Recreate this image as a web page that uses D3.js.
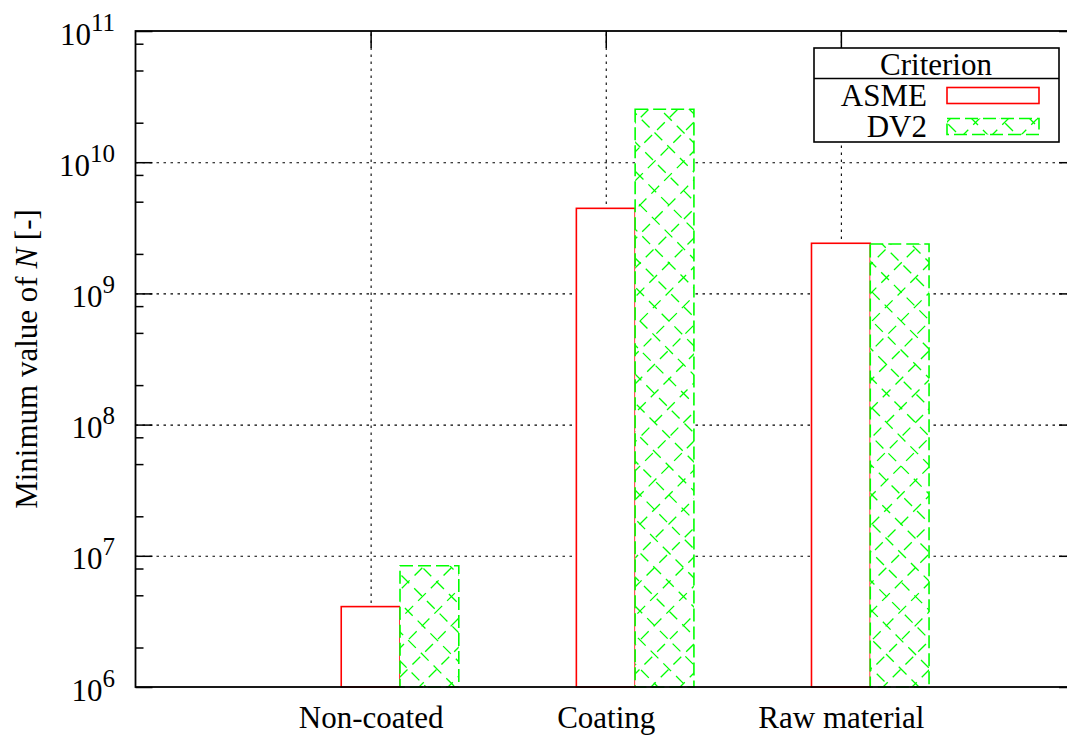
<!DOCTYPE html>
<html>
<head>
<meta charset="utf-8">
<script src="https://cdn.jsdelivr.net/npm/d3@7"></script>
<style>
  body { margin: 0; background: #ffffff; }
  svg { display: block; }
  text { font-family: "Liberation Serif", "Times New Roman", serif; fill: #000; }
</style>
</head>
<body>
<svg id="chart" width="1067" height="739"></svg>
<script>
// Minimum value of N for each surface condition, per fatigue criterion
const categories = ["Non-coated", "Coating", "Raw material"];
const seriesNames = ["ASME", "DV2"];
const asmeValues = [4.1e6, 4.45e9, 2.41e9];
const dv2Values = [8.4e6, 2.53e10, 2.38e9];
const yMajorExponents = [6, 7, 8, 9, 10, 11];
const yMinorMantissas = [2, 5, 8];
const legendTitle = "Criterion";

const svg = d3.select("#chart");
const margin = { left: 135.5, top: 31, bottom: 687, right: 1076 };
const FONT = 31;
const RED = "#ff0000";
const GREEN = "#00ff00";

const x = d3.scaleLinear().domain([-1, 3]).range([margin.left, margin.right]);
const y = d3.scaleLog().domain([1e6, 1e11]).range([margin.bottom, margin.top]);

const majorTicks = yMajorExponents.map(e => Math.pow(10, e));
const minorTicks = [];
for (let e = yMajorExponents[0]; e < yMajorExponents[yMajorExponents.length - 1]; e++) {
  yMinorMantissas.forEach(m => minorTicks.push(m * Math.pow(10, e)));
}
const gridTicks = majorTicks.slice(1, -1);
const catIdx = categories.map((_, i) => i);

// ---- grid (dotted) ----
const grid = svg.append("g").attr("class", "grid");
grid.append("g")
  .attr("transform", `translate(${margin.left},0)`)
  .call(d3.axisLeft(y).tickValues(gridTicks).tickFormat("").tickSize(-(margin.right - margin.left)))
  .call(g => g.select(".domain").remove());
grid.append("g")
  .attr("transform", `translate(0,${margin.bottom})`)
  .call(d3.axisTop(x).tickValues(catIdx).tickFormat("").tickSize(margin.bottom - margin.top))
  .call(g => g.select(".domain").remove());
grid.selectAll("line")
  .attr("stroke", "#000").attr("stroke-width", 1.1).attr("stroke-dasharray", "2.5,4.5");

// ---- bottom category ticks (drawn under the bars) ----
svg.append("g")
  .attr("transform", `translate(0,${margin.bottom})`)
  .call(d3.axisTop(x).tickValues(catIdx).tickFormat("").tickSize(17))
  .call(g => g.select(".domain").remove())
  .selectAll("line").attr("stroke", "#000").attr("stroke-width", 1.5);

// ---- crosshatch helper ----
const defs = svg.append("defs");
let clipCount = 0;
const HATCH = 29;             // lattice step along each axis
const HATCH_X0 = 408, HATCH_Y0 = 582;
function crossHatch(parent, rx, ry, rw, rh) {
  const id = "hatchclip" + (clipCount++);
  defs.append("clipPath").attr("id", id)
    .append("rect").attr("x", rx).attr("y", ry).attr("width", rw).attr("height", rh);
  const g = parent.append("g").attr("clip-path", `url(#${id})`);
  const sumRef = HATCH_X0 + HATCH_Y0, difRef = HATCH_X0 - HATCH_Y0;
  // lines of constant x+y (running up-right), drawn from the bottom edge upward
  const sMin = Math.floor((rx + ry - sumRef) / HATCH) - 1;
  const sMax = Math.ceil((rx + rw + ry + rh - sumRef) / HATCH) + 1;
  for (let k = sMin; k <= sMax; k++) {
    const c = sumRef + k * HATCH;
    const yb = ry + rh + 3, yt = ry - 3;
    g.append("line").attr("x1", c - yb).attr("y1", yb).attr("x2", c - yt).attr("y2", yt);
  }
  // lines of constant x-y (running down-right), drawn from the top edge downward
  const dMin = Math.floor((rx - (ry + rh) - difRef) / HATCH) - 1;
  const dMax = Math.ceil((rx + rw - ry - difRef) / HATCH) + 1;
  for (let k = dMin; k <= dMax; k++) {
    const c = difRef + k * HATCH;
    const yt = ry - 3 - ((k * 7) % 13), yb = ry + rh + 3;
    g.append("line").attr("x1", yt + c).attr("y1", yt).attr("x2", yb + c).attr("y2", yb);
  }
  g.selectAll("line")
    .attr("stroke", GREEN).attr("stroke-width", 1.3).attr("stroke-dasharray", "11,7");
}

// ---- bars ----
const barW = 0.25;
const bars = svg.append("g").attr("class", "bars");
categories.forEach((cat, i) => {
  // ASME: open red box
  const ax0 = x(i - barW / 2), ax1 = x(i + barW / 2);
  bars.append("rect")
    .attr("x", ax0).attr("y", y(asmeValues[i]))
    .attr("width", ax1 - ax0).attr("height", y(1e6) - y(asmeValues[i]))
    .attr("fill", "#fff").attr("stroke", RED).attr("stroke-width", 1.6);
  // DV2: green dashed box with crosshatch
  const dx0 = x(i + barW / 2), dx1 = x(i + 1.5 * barW);
  const top = y(dv2Values[i]), h = y(1e6) - top;
  bars.append("rect")
    .attr("x", dx0).attr("y", top).attr("width", dx1 - dx0).attr("height", h)
    .attr("fill", "#fff");
  crossHatch(bars, dx0, top, dx1 - dx0, h);
  bars.append("rect")
    .attr("x", dx0).attr("y", top).attr("width", dx1 - dx0).attr("height", h)
    .attr("fill", "none").attr("stroke", GREEN).attr("stroke-width", 1.6)
    .attr("stroke-dasharray", "13,5");
});

// ---- axes ticks ----
const tickStyle = sel => sel.selectAll("line").attr("stroke", "#000").attr("stroke-width", 1.5);
svg.append("g").attr("transform", `translate(${margin.left},0)`)
  .call(d3.axisRight(y).tickValues(majorTicks).tickFormat("").tickSize(17))
  .call(g => g.select(".domain").remove()).call(tickStyle);
svg.append("g").attr("transform", `translate(${margin.left},0)`)
  .call(d3.axisRight(y).tickValues(minorTicks).tickFormat("").tickSize(8))
  .call(g => g.select(".domain").remove()).call(tickStyle);
svg.append("g").attr("transform", `translate(${margin.right},0)`)
  .call(d3.axisLeft(y).tickValues(majorTicks).tickFormat("").tickSize(17))
  .call(g => g.select(".domain").remove()).call(tickStyle);
svg.append("g").attr("transform", `translate(0,${margin.top})`)
  .call(d3.axisBottom(x).tickValues(catIdx).tickFormat("").tickSize(17))
  .call(g => g.select(".domain").remove()).call(tickStyle);

// ---- border ----
svg.append("rect")
  .attr("x", margin.left).attr("y", margin.top)
  .attr("width", margin.right - margin.left).attr("height", margin.bottom - margin.top)
  .attr("fill", "none").attr("stroke", "#000").attr("stroke-width", 1.8);

// ---- y tick labels: 10^n ----
const yLabels = svg.append("g").attr("class", "ylabels");
yMajorExponents.forEach(e => {
  const t = yLabels.append("text")
    .attr("x", 115).attr("y", y(Math.pow(10, e)) + 13.5)
    .attr("text-anchor", "end").attr("font-size", FONT);
  t.append("tspan").text("10");
  t.append("tspan").attr("dy", -14).attr("font-size", 25).text(String(e));
});

// ---- x category labels ----
svg.append("g")
  .attr("transform", `translate(0,${margin.bottom})`)
  .call(d3.axisBottom(x).tickValues(catIdx).tickFormat(i => categories[i]).tickSize(0))
  .call(g => g.select(".domain").remove())
  .selectAll("text")
  .attr("y", 41).attr("dy", 0)
  .attr("font-size", FONT)
  .attr("font-family", "Liberation Serif, serif")
  .attr("fill", "#000");

// ---- y axis title ----
const yt = svg.append("text")
  .attr("transform", `translate(37,${(margin.top + margin.bottom) / 2}) rotate(-90)`)
  .attr("text-anchor", "middle").attr("font-size", FONT);
yt.append("tspan").text("Minimum value of ");
yt.append("tspan").attr("font-style", "italic").text("N");
yt.append("tspan").text(" [-]");

// ---- legend ----
const lg = svg.append("g").attr("transform", "translate(814,48)");
const lgW = 245, lgH = 94, titleH = 30.5;
lg.append("rect").attr("width", lgW).attr("height", lgH)
  .attr("fill", "#fff").attr("stroke", "#000").attr("stroke-width", 1.6);
lg.append("line").attr("x1", 0).attr("x2", lgW).attr("y1", titleH).attr("y2", titleH)
  .attr("stroke", "#000").attr("stroke-width", 1.5);
lg.append("text").attr("x", 122).attr("y", 26.5).attr("text-anchor", "middle")
  .attr("font-size", FONT).text(legendTitle);
const rowCenters = [47.5, 78.5];
seriesNames.forEach((name, k) => {
  const cy = rowCenters[k];
  lg.append("text").attr("x", 113).attr("y", cy + 10.5).attr("text-anchor", "end")
    .attr("font-size", FONT).text(name);
  const sx = 133, sw = 92, sh = 16, sy = cy - sh / 2;
  if (k === 0) {
    lg.append("rect").attr("x", sx).attr("y", sy).attr("width", sw).attr("height", sh)
      .attr("fill", "#fff").attr("stroke", RED).attr("stroke-width", 1.6);
  } else {
    crossHatch(lg, sx, sy, sw, sh);
    lg.append("rect").attr("x", sx).attr("y", sy).attr("width", sw).attr("height", sh)
      .attr("fill", "none").attr("stroke", GREEN).attr("stroke-width", 1.6)
      .attr("stroke-dasharray", "13,5");
  }
});
</script>
</body>
</html>
